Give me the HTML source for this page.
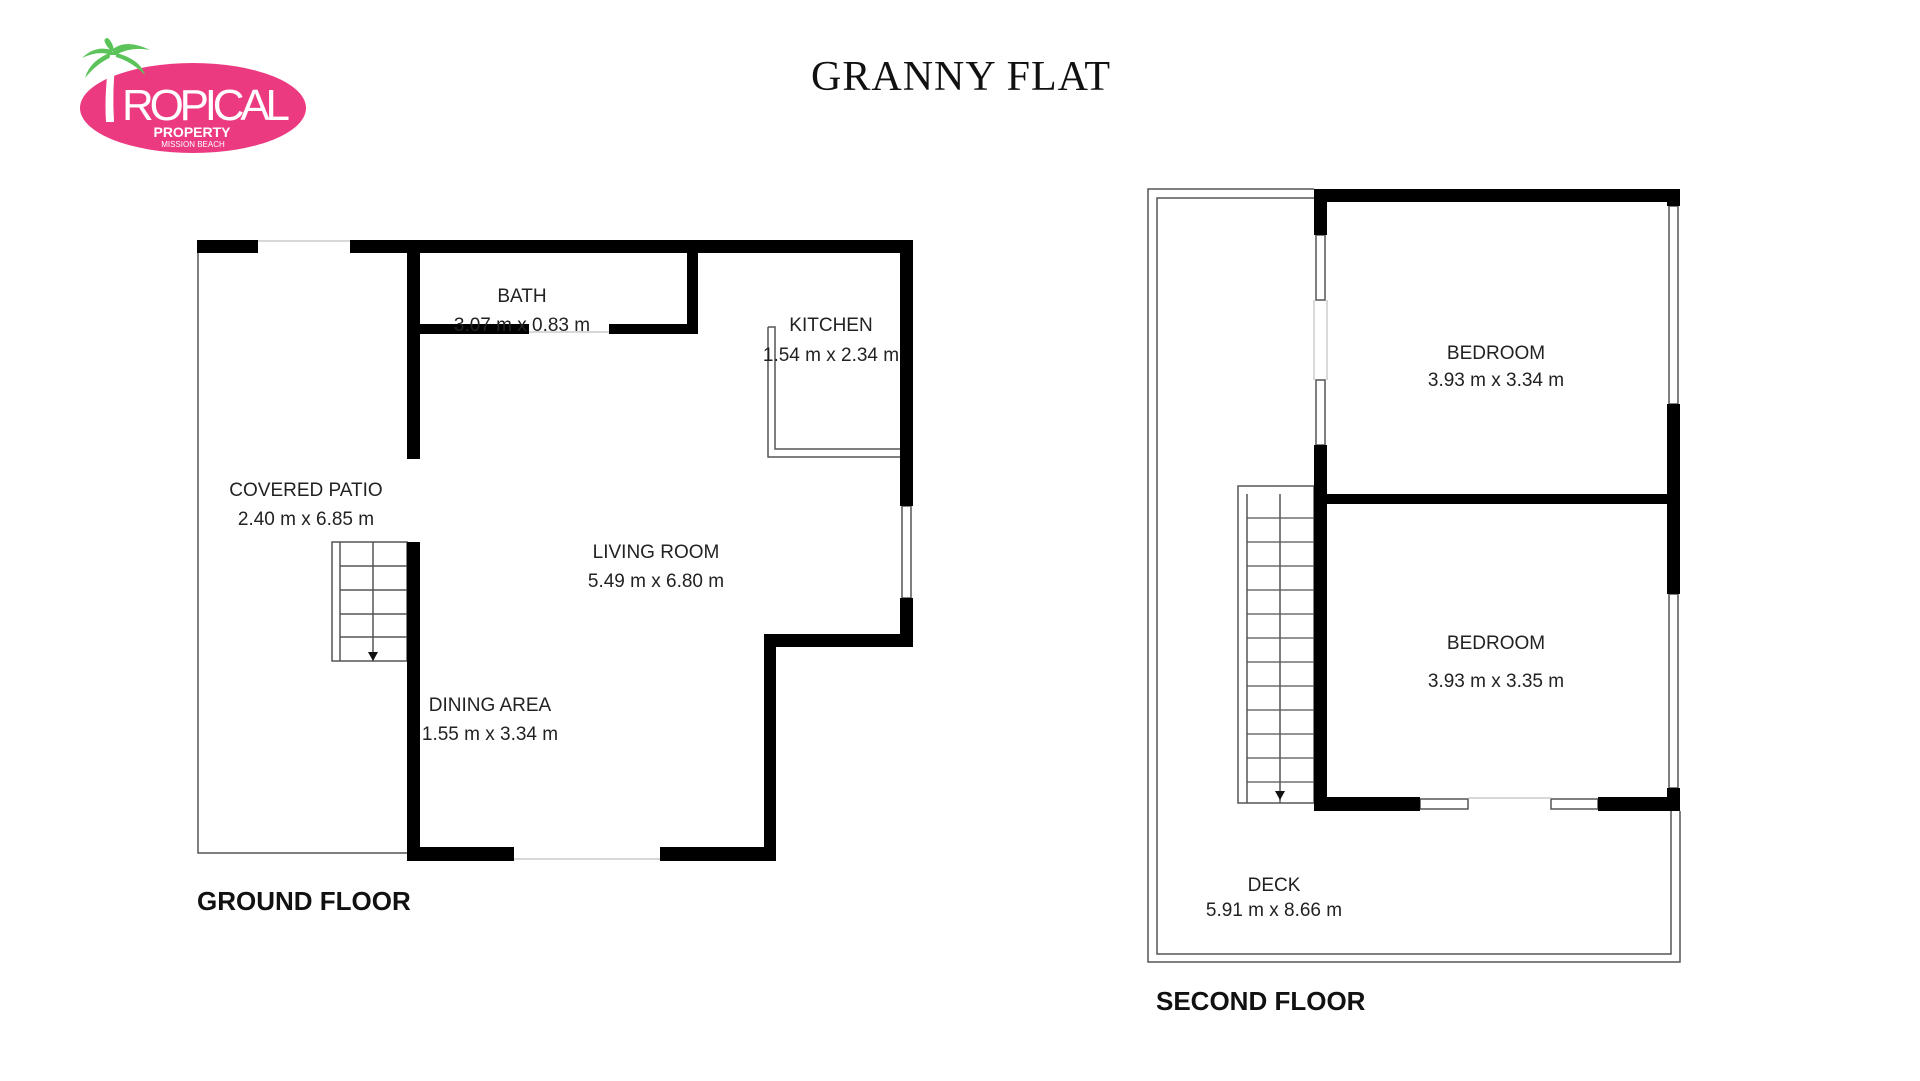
<!DOCTYPE html>
<html><head><meta charset="utf-8"><style>
html,body{margin:0;padding:0;background:#fff;width:1920px;height:1081px;overflow:hidden}
svg{display:block}
.l{font-family:"Liberation Sans",sans-serif;font-size:19px;fill:#222;text-anchor:middle}
.h{font-family:"Liberation Sans",sans-serif;font-size:26px;font-weight:bold;fill:#111}
</style></head><body>
<svg width="1920" height="1081" viewBox="0 0 1920 1081" xmlns="http://www.w3.org/2000/svg">
<ellipse cx="193" cy="108" rx="113" ry="45" fill="#ec3a80"/>
<g fill="#5cc35a">
<path d="M112 50 Q95 45 82 58 Q98 50 112 55Z"/>
<path d="M112 50 Q125 38 150 50 Q130 46 114 56Z"/>
<path d="M112 52 Q90 60 85 78 Q98 62 114 56Z"/>
<path d="M112 52 Q140 58 145 75 Q130 60 112 56Z"/>
<path d="M110 50 Q100 38 108 38 Q114 44 114 52Z"/>
</g>
<path d="M110 55 Q104 90 106 122 L114 122 Q112 90 116 55Z" fill="#fff"/>
<text x="122" y="120" font-family="Liberation Sans,sans-serif" font-size="44" fill="#fff" textLength="168">ROPICAL</text>
<text x="192" y="137" font-family="Liberation Sans,sans-serif" font-size="14" font-weight="bold" fill="#fff" text-anchor="middle">PROPERTY</text>
<text x="193" y="147" font-family="Liberation Sans,sans-serif" font-size="8" fill="#fff" text-anchor="middle">MISSION BEACH</text>
<text x="961" y="90" font-family="Liberation Serif,serif" font-size="42" fill="#111" text-anchor="middle" letter-spacing="1">GRANNY FLAT</text>

<g fill="none" stroke="#555" stroke-width="1.5">
<polyline points="198,253 198,853 407,853"/>
<line x1="258" y1="241" x2="350" y2="241" stroke="#ccc"/>
<polyline points="768,327 775,327 775,449 900,449"/>
<polyline points="768,327 768,457 900,457"/>
<rect x="332" y="542" width="75" height="119"/>
<line x1="340" y1="542" x2="340" y2="661"/>
<line x1="373" y1="542" x2="373" y2="661"/>
<line x1="340" y1="566" x2="407" y2="566"/>
<line x1="340" y1="590" x2="407" y2="590"/>
<line x1="340" y1="614" x2="407" y2="614"/>
<line x1="340" y1="637" x2="407" y2="637"/>
<rect x="902" y="506" width="9" height="92"/>
<line x1="514" y1="859" x2="660" y2="859" stroke="#ccc"/>
<line x1="529" y1="332" x2="609" y2="332" stroke="#ccc"/>
</g>
<polygon points="368,652 378,652 373,661" fill="#111"/>
<g fill="#000">
<rect x="197" y="240" width="61" height="13"/>
<rect x="350" y="240" width="563" height="13"/>
<rect x="407" y="240" width="13" height="219"/>
<rect x="407" y="542" width="13" height="319"/>
<rect x="407" y="847" width="107" height="14"/>
<rect x="660" y="847" width="116" height="14"/>
<rect x="764" y="634" width="12" height="227"/>
<rect x="764" y="634" width="149" height="13"/>
<rect x="900" y="240" width="13" height="266"/>
<rect x="900" y="598" width="13" height="49"/>
<rect x="687" y="240" width="11" height="94"/>
<rect x="420" y="324" width="109" height="10"/>
<rect x="609" y="324" width="89" height="10"/>
</g>
<text class="l" x="522" y="302">BATH</text>
<text class="l" x="522" y="331">3.07 m x 0.83 m</text>
<text class="l" x="831" y="331">KITCHEN</text>
<text class="l" x="831" y="361">1.54 m x 2.34 m</text>
<text class="l" x="306" y="496">COVERED PATIO</text>
<text class="l" x="306" y="525">2.40 m x 6.85 m</text>
<text class="l" x="656" y="558">LIVING ROOM</text>
<text class="l" x="656" y="587">5.49 m x 6.80 m</text>
<text class="l" x="490" y="711">DINING AREA</text>
<text class="l" x="490" y="740">1.55 m x 3.34 m</text>
<text class="h" x="197" y="910">GROUND FLOOR</text>

<g fill="none" stroke="#555" stroke-width="1.5">
<polyline points="1314,189 1148,189 1148,962 1680,962 1680,811"/>
<polyline points="1314,198 1157,198 1157,954 1671,954 1671,811"/>
<rect x="1238" y="486" width="76" height="317"/>
<line x1="1247" y1="494" x2="1247" y2="803"/>
<line x1="1280" y1="494" x2="1280" y2="803"/>
<rect x="1316" y="235" width="9" height="65"/>
<rect x="1316" y="380" width="9" height="65"/>
<rect x="1669" y="206" width="9" height="198"/>
<rect x="1669" y="594" width="9" height="194"/>
<rect x="1420" y="799" width="48" height="10"/>
<rect x="1551" y="799" width="47" height="10"/>
<line x1="1314" y1="300" x2="1314" y2="380" stroke="#ccc"/>
<line x1="1327" y1="300" x2="1327" y2="380" stroke="#ccc"/>
<line x1="1468" y1="798" x2="1551" y2="798" stroke="#ccc"/>
</g>
<g stroke="#555" stroke-width="1.2">
<line x1="1247" y1="518" x2="1314" y2="518"/><line x1="1247" y1="542" x2="1314" y2="542"/>
<line x1="1247" y1="566" x2="1314" y2="566"/><line x1="1247" y1="590" x2="1314" y2="590"/>
<line x1="1247" y1="614" x2="1314" y2="614"/><line x1="1247" y1="638" x2="1314" y2="638"/>
<line x1="1247" y1="662" x2="1314" y2="662"/><line x1="1247" y1="686" x2="1314" y2="686"/>
<line x1="1247" y1="710" x2="1314" y2="710"/><line x1="1247" y1="734" x2="1314" y2="734"/>
<line x1="1247" y1="758" x2="1314" y2="758"/><line x1="1247" y1="782" x2="1314" y2="782"/>
</g>
<polygon points="1275,791 1285,791 1280,800" fill="#111"/>
<g fill="#000">
<rect x="1314" y="189" width="366" height="13"/>
<rect x="1314" y="189" width="13" height="46"/>
<rect x="1314" y="445" width="13" height="366"/>
<rect x="1314" y="797" width="106" height="14"/>
<rect x="1598" y="797" width="82" height="14"/>
<rect x="1667" y="189" width="13" height="17"/>
<rect x="1667" y="404" width="13" height="190"/>
<rect x="1667" y="788" width="13" height="23"/>
<rect x="1314" y="494" width="366" height="10"/>
</g>
<text class="l" x="1496" y="359">BEDROOM</text>
<text class="l" x="1496" y="386">3.93 m x 3.34 m</text>
<text class="l" x="1496" y="649">BEDROOM</text>
<text class="l" x="1496" y="687">3.93 m x 3.35 m</text>
<text class="l" x="1274" y="891">DECK</text>
<text class="l" x="1274" y="916">5.91 m x 8.66 m</text>
<text class="h" x="1156" y="1010">SECOND FLOOR</text>
</svg>
</body></html>
